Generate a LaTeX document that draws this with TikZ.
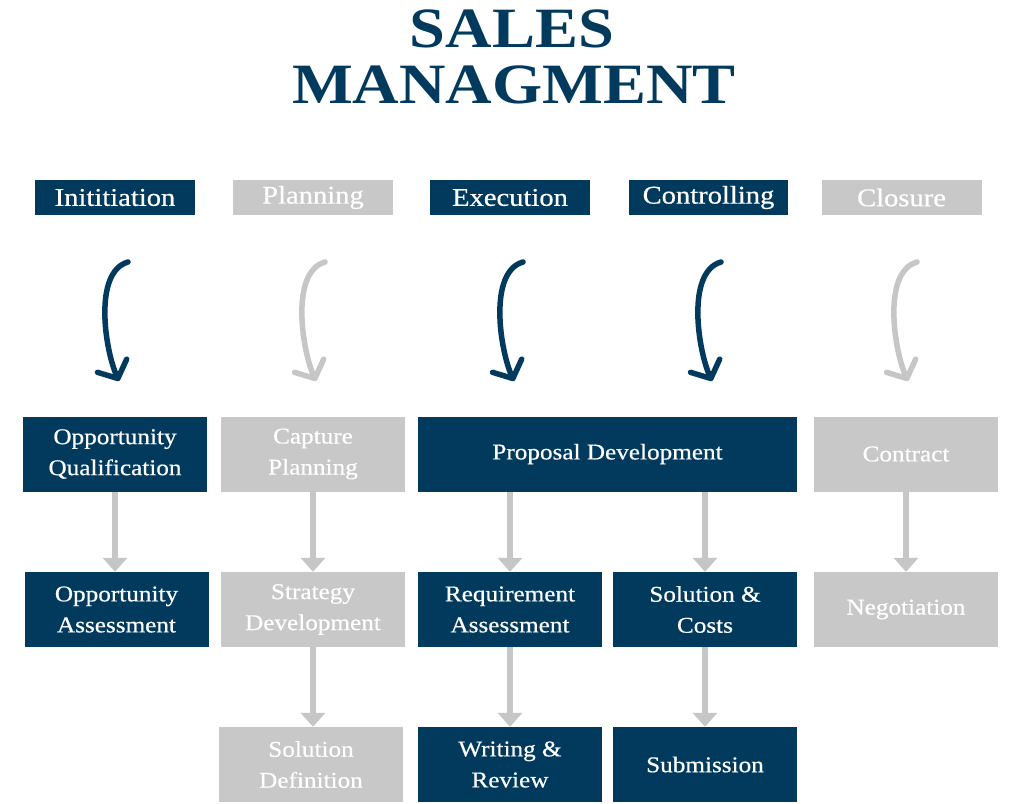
\documentclass[tikz,border=0pt]{standalone}
\usepackage{fontspec}
\setmainfont{Liberation Serif}
\newfontfamily\titlefont[FakeStretch=1.13]{Liberation Serif}
\newfontfamily\boxfont[FakeStretch=1.12,FakeBold=0.5]{Liberation Serif}
\usetikzlibrary{arrows.meta}
\definecolor{navy}{HTML}{023A5E}
\definecolor{lgray}{HTML}{C8C8C8}
\definecolor{agray}{HTML}{C6C6C6}
\begin{document}
\begin{tikzpicture}[x=1pt,y=-1pt,
 hdr/.style={minimum width=160pt, minimum height=35pt, inner sep=0pt, text=white, font=\boxfont\fontsize{25.5}{28}\selectfont},
 hdark/.style={hdr, fill=navy}, hlight/.style={hdr, fill=lgray},
 box/.style={minimum width=184pt, minimum height=75pt, inner sep=0pt, text=white, align=center, font=\boxfont\fontsize{22.5}{31}\selectfont},
 dbox/.style={box, fill=navy}, lbox/.style={box, fill=lgray},
 curve/.style={line width=5.5pt, line cap=round, -{Straight Barb[length=14pt,width=32pt,round]}},
 cdark/.style={curve, draw=navy}, clight/.style={curve, draw=agray},
 flow/.style={draw=agray, line width=6pt, -{Triangle[length=14pt,width=24pt]}},
 ttl/.style={anchor=base, text=navy, font=\titlefont\bfseries\fontsize{57}{60}\selectfont}
]
\fill[white] (0,0) rectangle (1024,803);
\useasboundingbox (0,0) rectangle (1024,803);

% title
\node[ttl] (t1) at (512,47) {SALES};
\node[ttl] (t2) at (514,103) {MANAGMENT};

% headers
\node[hdark]  (h1) at (115,197.5) {Inititiation};
\node[hlight] (h2) at (313,197.5) {Planning};
\node[hdark]  (h3) at (510,197.5) {Execution};
\node[hdark, minimum width=159pt]  (h4) at (708.5,197.5) {Controlling};
\node[hlight] (h5) at (901.5,197.5) {Closure};

% row 1
\node[dbox] (q1) at (115,454) {Opportunity\\Qualification};
\node[lbox] (q2) at (313,454) {Capture\\Planning};
\node[dbox, minimum width=379pt] (q3) at (607.5,454) {Proposal Development};
\node[lbox] (q5) at (906,454) {Contract};

% row 2
\node[dbox] (a1) at (116.5,609.5) {Opportunity\\Assessment};
\node[lbox] (a2) at (313,609.5) {Strategy\\Development};
\node[dbox] (a3) at (510,609.5) {Requirement\\Assessment};
\node[dbox] (a4) at (705,609.5) {Solution \&\\Costs};
\node[lbox] (a5) at (906,609.5) {Negotiation};

% row 3
\node[lbox] (b2) at (311,764.5) {Solution\\Definition};
\node[dbox] (b3) at (510,764.5) {Writing \&\\Review};
\node[dbox] (b4) at (705,764.5) {Submission};

% curved arrows
\foreach \n/\c/\s in {1/115/cdark, 2/312/clight, 3/510/cdark, 4/708/cdark, 5/904/clight}{
  \coordinate (cs\n) at (\c+13,262);
  \coordinate (ce\n) at (\c+4,381);
  \draw[\s] (cs\n) .. controls (\c-22,272) and (\c-10,350) .. (ce\n);
}

% flow arrows
\draw[flow] (q1.south) -- (q1.south |- a1.north);
\draw[flow] (q2.south) -- (a2.north);
\draw[flow] (q3.south -| a3.north) -- (a3.north);
\draw[flow] (q3.south -| a4.north) -- (a4.north);
\draw[flow] (q5.south) -- (a5.north);
\draw[flow] (a2.south) -- (a2.south |- b2.north);
\draw[flow] (a3.south) -- (b3.north);
\draw[flow] (a4.south) -- (b4.north);
\end{tikzpicture}
\end{document}
